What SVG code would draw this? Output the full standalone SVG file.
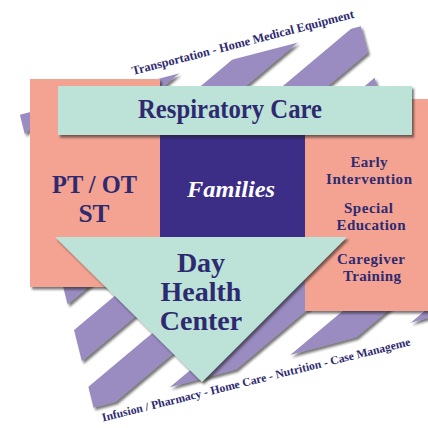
<svg xmlns="http://www.w3.org/2000/svg" width="428" height="428" viewBox="0 0 428 428">
<defs>
<style>
.t{font-family:"Liberation Serif","Times New Roman",serif;font-weight:bold;fill:#2e2a70}
.big{font-size:28px;text-anchor:middle}
.mid{font-size:26px;text-anchor:middle}
.sm{font-size:15px;text-anchor:middle}
.arc{font-size:12.3px}
.stripe{fill:#9a8bc1}
.salmon{fill:#f4a392}
.teal{fill:#bde3d9}
</style>
<filter id="sh" filterUnits="userSpaceOnUse" x="0" y="0" width="428" height="428">
<feDropShadow dx="2" dy="2.5" stdDeviation="1" flood-color="#1a1a1a" flood-opacity="0.6"/>
</filter>
<clipPath id="sc"><polygon points="19.9,114.8 360.8,26.2 438.8,315.2 93.6,407.7"/></clipPath>
</defs>
<rect width="428" height="428" fill="#ffffff"/>
<g id="stripes" filter="url(#sh)">
<g clip-path="url(#sc)">
<g transform="rotate(-40)">
<rect class="stripe" x="-320" y="89.6" width="720" height="29"/>
<rect class="stripe" x="-320" y="142.3" width="720" height="29"/>
<rect class="stripe" x="-320" y="195" width="720" height="29"/>
<rect class="stripe" x="-320" y="247.7" width="720" height="29"/>
<rect class="stripe" x="-320" y="300.4" width="720" height="29"/>
<rect class="stripe" x="-320" y="353.1" width="720" height="29"/>
<rect class="stripe" x="-320" y="405.8" width="720" height="29"/>
<rect class="stripe" x="-320" y="458.5" width="720" height="29"/>
<rect class="stripe" x="-320" y="511.2" width="720" height="29"/>
</g>
</g>
</g>
<text class="t arc" transform="translate(133,75) rotate(-14.5)" textLength="229" lengthAdjust="spacingAndGlyphs">Transportation - Home Medical Equipment</text>
<text class="t" font-size="11.7" transform="translate(103,421.5) rotate(-13.9)">Infusion / Pharmacy - Home Care - Nutrition - Case Manageme</text>
<g id="therapy" filter="url(#sh)">
<rect class="salmon" x="30" y="79" width="130" height="208"/>
</g>
<g id="education" filter="url(#sh)">
<rect class="salmon" x="305" y="99" width="130" height="212"/>
</g>
<g id="families">
<rect x="160" y="135" width="145" height="102" fill="#3c2d86"/>
<text x="231" y="197" font-family="Liberation Serif, Times New Roman, serif" font-weight="bold" font-style="italic" font-size="24" fill="#ffffff" text-anchor="middle" textLength="88" lengthAdjust="spacingAndGlyphs">Families</text>
</g>
<g id="respiratory" filter="url(#sh)">
<rect class="teal" x="58" y="86" width="354" height="49"/>
</g>
<text class="t" x="230" y="118" font-size="27" text-anchor="middle" textLength="184" lengthAdjust="spacingAndGlyphs">Respiratory Care</text>
<g id="therapy-text">
<text class="t mid" x="94.5" y="193" textLength="85" lengthAdjust="spacingAndGlyphs">PT / OT</text>
<text class="t mid" x="94" y="222" textLength="31" lengthAdjust="spacingAndGlyphs">ST</text>
</g>
<g id="education-text">
<text class="t sm" x="369" y="167" textLength="37">Early</text>
<text class="t sm" x="369" y="184" textLength="86">Intervention</text>
<text class="t sm" x="368.5" y="213" textLength="49">Special</text>
<text class="t sm" x="371" y="229.5" textLength="69">Education</text>
<text class="t sm" x="371" y="264" textLength="68">Caregiver</text>
<text class="t sm" x="372" y="280.5" textLength="58">Training</text>
</g>
<g id="dayhealth">
<polygon class="teal" points="55,237 347,237 202,382" filter="url(#sh)"/>
<text class="t big" x="201" y="272">Day</text>
<text class="t big" x="201" y="301">Health</text>
<text class="t big" x="201" y="329.5">Center</text>
</g>
</svg>
